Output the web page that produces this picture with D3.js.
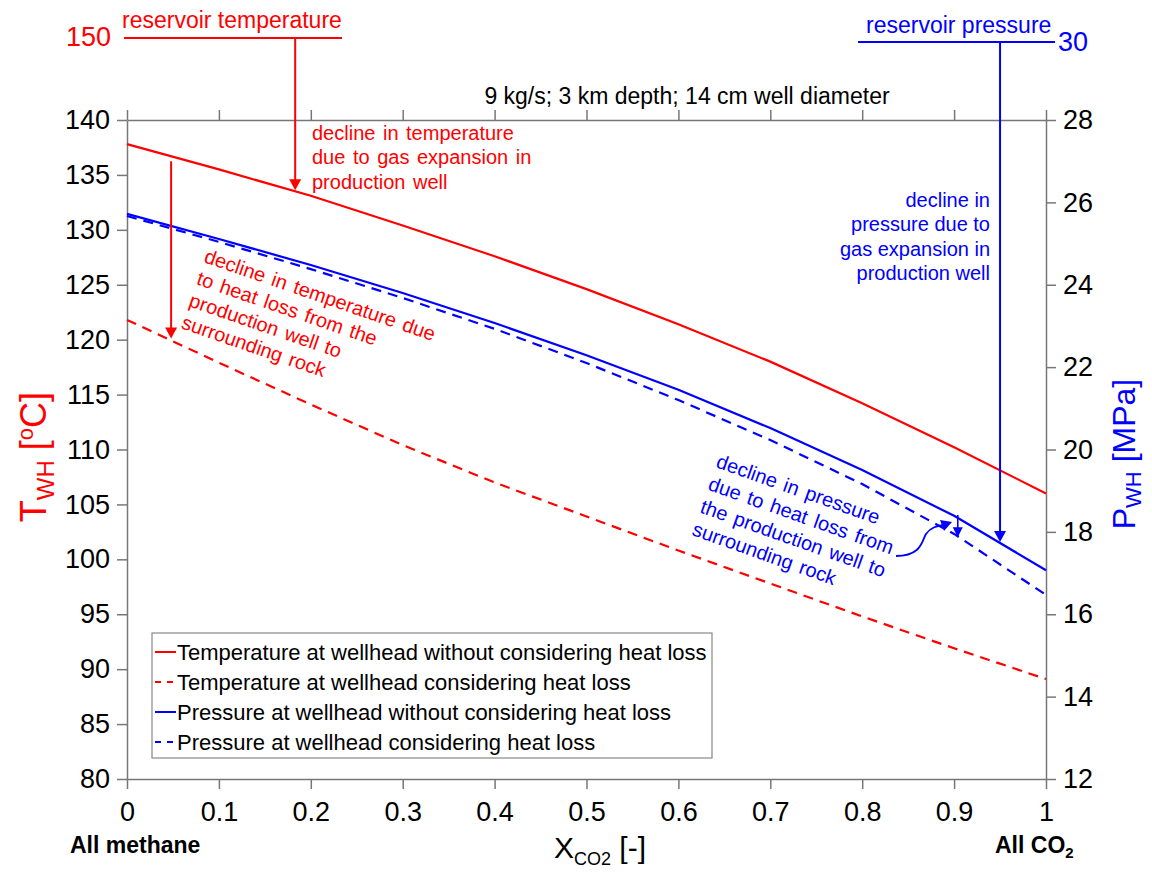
<!DOCTYPE html>
<html>
<head>
<meta charset="utf-8">
<script src="https://cdn.jsdelivr.net/npm/d3@7"></script>
<style>
  body { margin: 0; background: #fff; }
  svg { display: block; font-family: "Liberation Sans", Arial, Helvetica, sans-serif; }
</style>
</head>
<body>
<svg id="chart" width="1152" height="874"></svg>
<script>
// CO2 mole fraction of the produced gas
const xco2 = [0, 0.1, 0.2, 0.3, 0.4, 0.5, 0.6, 0.7, 0.8, 0.9, 1];
// Wellhead temperature [°C]
const tempNoLoss   = [137.8, 135.5, 133.1, 130.4, 127.6, 124.6, 121.4, 118.0, 114.2, 110.2, 106.0];
const tempWithLoss = [121.8, 117.9, 114.1, 110.4, 107.0, 103.9, 100.8, 97.8, 94.8, 91.9, 89.1];
// Wellhead pressure [MPa]
const presNoLoss   = [25.72, 25.11, 24.48, 23.80, 23.07, 22.29, 21.45, 20.52, 19.50, 18.39, 17.07];
const presWithLoss = [25.67, 25.04, 24.38, 23.68, 22.93, 22.10, 21.20, 20.23, 19.16, 17.95, 16.47];

const xTicks = [0, 0.1, 0.2, 0.3, 0.4, 0.5, 0.6, 0.7, 0.8, 0.9, 1];
const tTicks = [80, 85, 90, 95, 100, 105, 110, 115, 120, 125, 130, 135, 140];
const pTicks = [12, 14, 16, 18, 20, 22, 24, 26, 28];

const legendLabels = [
  "Temperature at wellhead without considering heat loss",
  "Temperature at wellhead considering heat loss",
  "Pressure at wellhead without considering heat loss",
  "Pressure at wellhead considering heat loss"
];

const RED = "#ff0000", BLUE = "#0000ff", AXIS = "#777";

const svg = d3.select("#chart");
const plot = { left: 127, right: 1046, top: 120, bottom: 779 };

const x = d3.scaleLinear().domain([0, 1]).range([plot.left, plot.right]);
const yT = d3.scaleLinear().domain([80, 140]).range([plot.bottom, plot.top]);
const yP = d3.scaleLinear().domain([12, 28]).range([plot.bottom, plot.top]);

// linear interpolation along a series at a given CO2 fraction
function valueAt(series, xv) {
  const i = Math.min(Math.floor(xv * 10), 9);
  const t = (xv - xco2[i]) / (xco2[i + 1] - xco2[i]);
  return series[i] + t * (series[i + 1] - series[i]);
}

// ---- axes ----
function styleAxis(g, showLabels) {
  g.select(".domain").attr("stroke", AXIS).attr("stroke-width", 1.5);
  g.selectAll(".tick line").attr("stroke", AXIS).attr("stroke-width", 1.5);
  g.selectAll(".tick text").attr("fill", "#000").attr("font-size", 27)
    .attr("font-family", "'Liberation Sans', Arial, sans-serif");
  if (!showLabels) g.selectAll(".tick text").remove();
}
const fmt = d => String(d);

svg.append("g").attr("transform", `translate(0,${plot.top})`)
  .call(d3.axisTop(x).tickValues(xTicks).tickSize(10).tickSizeOuter(0).tickFormat(""))
  .call(g => styleAxis(g, false));
svg.append("g").attr("transform", `translate(0,${plot.bottom})`)
  .call(d3.axisBottom(x).tickValues(xTicks).tickSize(10).tickSizeOuter(0).tickPadding(13).tickFormat(fmt))
  .call(g => styleAxis(g, true));
svg.append("g").attr("transform", `translate(${plot.left},0)`)
  .call(d3.axisLeft(yT).tickValues(tTicks).tickSize(10).tickSizeOuter(0).tickPadding(7).tickFormat(fmt))
  .call(g => styleAxis(g, true));
svg.append("g").attr("transform", `translate(${plot.right},0)`)
  .call(d3.axisRight(yP).tickValues(pTicks).tickSize(10).tickSizeOuter(0).tickPadding(7).tickFormat(fmt))
  .call(g => styleAxis(g, true));

// ---- series ----
const lineT = d3.line().x((d, i) => x(xco2[i])).y(d => yT(d));
const lineP = d3.line().x((d, i) => x(xco2[i])).y(d => yP(d));

svg.append("path").datum(tempNoLoss).attr("d", lineT)
  .attr("fill", "none").attr("stroke", RED).attr("stroke-width", 2.2);
svg.append("path").datum(tempWithLoss).attr("d", lineT)
  .attr("fill", "none").attr("stroke", RED).attr("stroke-width", 2.2).attr("stroke-dasharray", "10,7");
svg.append("path").datum(presNoLoss).attr("d", lineP)
  .attr("fill", "none").attr("stroke", BLUE).attr("stroke-width", 2.2);
svg.append("path").datum(presWithLoss).attr("d", lineP)
  .attr("fill", "none").attr("stroke", BLUE).attr("stroke-width", 2.2).attr("stroke-dasharray", "10,7");

// ---- arrows ----
function arrowDown(px, y0, y1, color) {
  const hw = 6, hl = 11;
  svg.append("line").attr("x1", px).attr("x2", px).attr("y1", y0).attr("y2", y1 - hl + 1)
    .attr("stroke", color).attr("stroke-width", 2);
  svg.append("path")
    .attr("d", `M${px - hw},${y1 - hl}L${px + hw},${y1 - hl}L${px},${y1}Z`)
    .attr("fill", color);
}

// reservoir reference levels drawn above the axes
const resTempY = plot.top - 82;
const resPresY = plot.top - 78;

svg.append("line").attr("x1", 124).attr("x2", 342).attr("y1", resTempY).attr("y2", resTempY)
  .attr("stroke", RED).attr("stroke-width", 2);
svg.append("text").attr("x", 111).attr("y", 46).attr("text-anchor", "end")
  .attr("font-size", 27).attr("fill", RED).text("150");
svg.append("text").attr("x", 122).attr("y", 28).attr("font-size", 23).attr("fill", RED)
  .text("reservoir temperature");

svg.append("line").attr("x1", 858).attr("x2", 1055).attr("y1", resPresY).attr("y2", resPresY)
  .attr("stroke", BLUE).attr("stroke-width", 2);
svg.append("text").attr("x", 1058).attr("y", 51)
  .attr("font-size", 27).attr("fill", BLUE).text("30");
svg.append("text").attr("x", 866).attr("y", 33).attr("font-size", 23).attr("fill", BLUE)
  .text("reservoir pressure");

const xa1 = 0.183, xa2 = 0.048, xa3 = 0.95, xa4 = 0.904;
arrowDown(x(xa1), resTempY, yT(valueAt(tempNoLoss, xa1)) - 1, RED);
arrowDown(x(xa2), yT(valueAt(tempNoLoss, xa2)) + 5, yT(valueAt(tempWithLoss, xa2)) - 2, RED);
arrowDown(x(xa3), resPresY, yP(valueAt(presNoLoss, xa3)) - 1, BLUE);
(function () {
  const px = x(xa4), y0 = yP(valueAt(presNoLoss, xa4)) - 3, y1 = yP(valueAt(presWithLoss, xa4)) + 1;
  svg.append("line").attr("x1", px).attr("x2", px).attr("y1", y0).attr("y2", y1 - 8)
    .attr("stroke", BLUE).attr("stroke-width", 1.6);
  svg.append("path").attr("d", `M${px - 5},${y1 - 10}L${px + 5},${y1 - 10}L${px},${y1}Z`).attr("fill", BLUE);
})();

// curved pointer from the heat-loss label toward the pressure gap
svg.append("path").attr("d", "M896,556 C922,556 922,540 926,534 C931,527 937,526 944,525")
  .attr("fill", "none").attr("stroke", BLUE).attr("stroke-width", 1.8);
svg.append("path").attr("d", "M952,522 L940,520 L944,531 Z").attr("fill", BLUE);

// ---- annotations ----
function lines(gx, gy, rows, color, opts = {}) {
  const t = svg.append("text")
    .attr("transform", `translate(${gx},${gy}) rotate(${opts.rotate || 0})`)
    .attr("font-size", opts.size || 20).attr("fill", color)
    .attr("text-anchor", opts.anchor || "start")
    .attr("word-spacing", opts.ws || 0);
  rows.forEach((r, i) => t.append("tspan").attr("x", 0).attr("y", i * (opts.lh || 24.5)).text(r));
}

lines(312, 139.5, ["decline in temperature", "due to gas expansion in", "production well"], RED,
  { ws: 2 });
lines(990, 207, ["decline in", "pressure due to", "gas expansion in", "production well"], BLUE,
  { anchor: "end", lh: 24.3 });
lines(203, 262, ["decline in temperature due", "to heat loss from the", "production well to", "surrounding rock"], RED,
  { rotate: 19, lh: 23.3, ws: 2 });
lines(715, 467, ["decline in pressure", "due to heat loss from", "the production well to", "surrounding rock"], BLUE,
  { rotate: 19.5, lh: 24, ws: 2 });

// title
svg.append("text").attr("x", 687).attr("y", 104).attr("text-anchor", "middle")
  .attr("font-size", 23).attr("fill", "#000").text("9 kg/s; 3 km depth; 14 cm well diameter");

// ---- axis titles ----
const tLab = svg.append("text").attr("transform", "translate(46,457) rotate(-90)")
  .attr("text-anchor", "middle").attr("font-size", 36).attr("fill", RED);
tLab.append("tspan").text("T");
tLab.append("tspan").attr("font-size", 24).attr("dy", 8).text("WH");
tLab.append("tspan").attr("dy", -8).text(" [");
tLab.append("tspan").attr("font-size", 22).attr("dy", -13).text("o");
tLab.append("tspan").attr("dy", 13).text("C]");

const pLab = svg.append("text").attr("transform", "translate(1135,454) rotate(-90)")
  .attr("text-anchor", "middle").attr("font-size", 32).attr("fill", BLUE);
pLab.append("tspan").text("P");
pLab.append("tspan").attr("font-size", 22).attr("dy", 6).text("WH");
pLab.append("tspan").attr("dy", -6).text(" [MPa]");

const xLab = svg.append("text").attr("x", 600).attr("y", 858)
  .attr("text-anchor", "middle").attr("font-size", 30).attr("fill", "#000");
xLab.append("tspan").text("X");
xLab.append("tspan").attr("font-size", 18).attr("dy", 7).text("CO2");
xLab.append("tspan").attr("dy", -7).text(" [-]");

svg.append("text").attr("x", 70).attr("y", 853).attr("font-size", 23).attr("font-weight", "bold")
  .attr("fill", "#000").text("All methane");
const co2 = svg.append("text").attr("x", 995).attr("y", 853).attr("font-size", 23)
  .attr("font-weight", "bold").attr("fill", "#000");
co2.append("tspan").text("All CO");
co2.append("tspan").attr("font-size", 15).attr("dy", 5).text("2");

// ---- legend ----
const lg = svg.append("g");
lg.append("rect").attr("x", 152).attr("y", 633).attr("width", 560).attr("height", 125)
  .attr("fill", "#fff").attr("stroke", "#888").attr("stroke-width", 1.2);
const legendStyles = [
  { c: RED, dash: null }, { c: RED, dash: "6,6" }, { c: BLUE, dash: null }, { c: BLUE, dash: "6,6" }
];
legendLabels.forEach((lab, i) => {
  const yy = 652 + i * 30;
  lg.append("line").attr("x1", 155).attr("x2", 176).attr("y1", yy).attr("y2", yy)
    .attr("stroke", legendStyles[i].c).attr("stroke-width", 2)
    .attr("stroke-dasharray", legendStyles[i].dash);
  lg.append("text").attr("x", 177).attr("y", yy + 8).attr("font-size", 22).attr("fill", "#000").text(lab);
});
</script>
</body>
</html>
